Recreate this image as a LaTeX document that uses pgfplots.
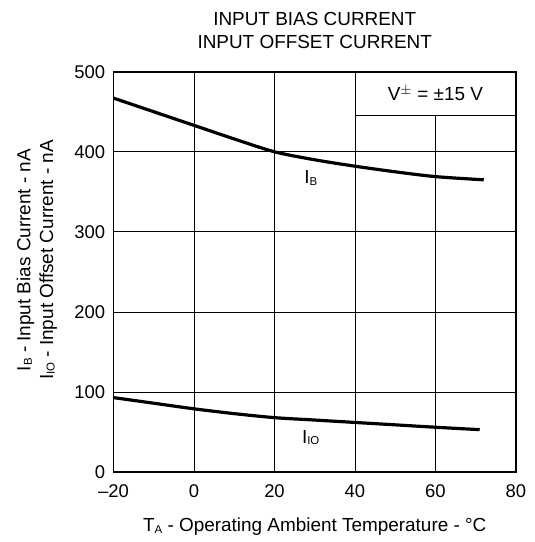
\documentclass[border=0pt]{standalone}
\usepackage{pgfplots}
\pgfplotsset{compat=1.18}
\usepackage{fontspec}
\setmainfont{Liberation Sans}
\newcommand\sub[1]{\raisebox{-0.15ex}{\fontsize{11.5}{11.5}\selectfont #1}}
\begin{document}
\fontsize{19}{23}\selectfont
\begin{tikzpicture}
\begin{axis}[
  scale only axis, width=404pt, height=402pt,
  xmin=-20, xmax=80, ymin=0, ymax=500,
  xtick={-20,0,20,40,60,80}, xticklabels={–20,0,20,40,60,80},
  ytick={0,100,200,300,400,500}, yticklabels={0,100,200,300,400,500},
  grid=major, major grid style={black, line width=0.8pt},
  major tick length=0pt,
  axis line style={black, line width=1.6pt},
  tick label style={font=\fontsize{18.5}{22}\selectfont},
  xticklabel style={yshift=-6pt},
  yticklabel style={xshift=-2pt},
  clip=false,
]
\draw[black, line width=0.8pt, fill=white] (axis cs:40,445) rectangle (axis cs:80,500);
\draw[black, line width=1.6pt] (rel axis cs:0,0) rectangle (rel axis cs:1,1);
\node at (axis cs:60,473) {V$^{\pm}$ = ±15 V};
\addplot[black, line width=3.2pt, smooth, tension=0.5] coordinates {
 (-20,467) (-10,450) (0,433) (10,416) (20,400) (30,390) (40,382) (50,375) (60,369) (72,365)};
\addplot[black, line width=3.2pt, smooth, tension=0.5] coordinates {
 (-20,93) (-10,86) (0,79) (10,73) (20,68) (30,65) (40,62) (50,59) (60,56) (71,53)};
\node at (axis cs:29,367) {I\sub{B}};
\node at (axis cs:29,43) {I\sub{IO}};
\end{axis}
\node[align=center, anchor=south, inner sep=0pt] at ([yshift=23pt]current axis.north) {INPUT BIAS CURRENT\\INPUT OFFSET CURRENT};
\node[rotate=90, align=center] at ([xshift=-77pt, yshift=12pt]current axis.west) {I\sub{B} - Input Bias Current - nA\\I\sub{IO} - Input Offset Current - nA};
\node at ([yshift=-55pt]current axis.south) {T\sub{A} - Operating Ambient Temperature - °C};
\path ([shift={(-114pt,-68pt)}]current axis.south west) rectangle ([shift={(19pt,72pt)}]current axis.north east);
\end{tikzpicture}
\end{document}
